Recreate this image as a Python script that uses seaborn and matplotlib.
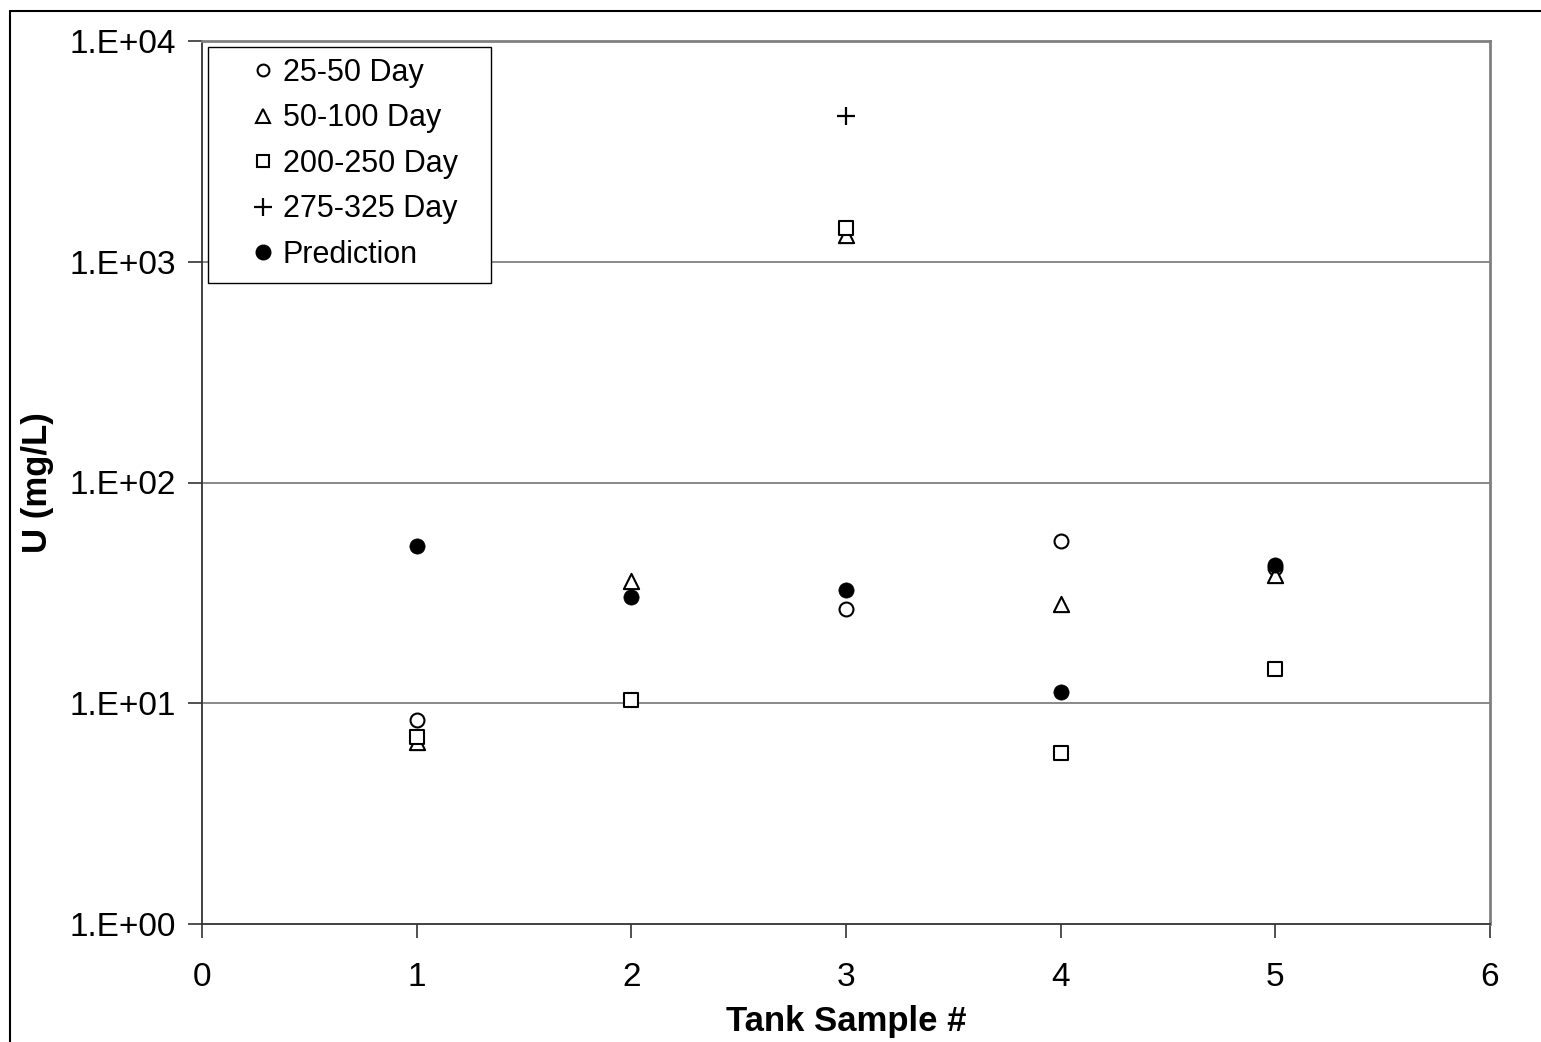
import matplotlib
matplotlib.use("Agg")
import matplotlib.pyplot as plt
import matplotlib.patches as mpatches
import seaborn as sns
import pandas as pd
from matplotlib.lines import Line2D

sns.set_theme(style="white")
plt.rcParams['font.family'] = ['Liberation Sans', 'DejaVu Sans']
plt.rcParams['text.color'] = 'black'
plt.rcParams['axes.labelcolor'] = 'black'

series_names = ["25-50 Day", "50-100 Day", "200-250 Day", "275-325 Day", "Prediction"]

x_25_50 = [1, 3, 4, 5]
y_25_50 = [8.4, 26.8, 54.6, 41.0]

x_50_100 = [1, 2, 3, 4, 5]
y_50_100 = [6.7, 35.9, 1320, 28.3, 38.3]

x_200_250 = [1, 2, 3, 4, 5]
y_200_250 = [7.0, 10.3, 1420, 5.96, 14.3]

x_275_325 = [3]
y_275_325 = [4570]

x_pred = [1, 2, 3, 4, 5]
y_pred = [51.8, 30.4, 32.7, 11.2, 42.5]

y_ticks = [1, 10, 100, 1000, 10000]
y_tick_labels = ["1.E+00", "1.E+01", "1.E+02", "1.E+03", "1.E+04"]
x_ticks = [0, 1, 2, 3, 4, 5, 6]

W, H = 1541, 1042
fig = plt.figure(figsize=(W / 100, H / 100), dpi=100)
ax = fig.add_axes([202/W, 1 - 924/H, (1490-202)/W, (924-41)/H])

# figure outer frame (left and top visible)
fig.add_artist(Line2D([10/W, 10/W], [0, 1 - 11/H], transform=fig.transFigure, color="black", lw=1.5))
fig.add_artist(Line2D([10/W, 1], [1 - 11/H, 1 - 11/H], transform=fig.transFigure, color="black", lw=1.5))

ax.set_yscale("log")
ax.set_ylim(1, 10000)
ax.set_xlim(0, 6)

for yv in [10, 100, 1000]:
    ax.axhline(yv, color="#808080", lw=1.3, zorder=0)

edge = 1.5
sns.scatterplot(x=x_25_50, y=y_25_50, ax=ax, marker="o", s=100, facecolor="white",
                edgecolor="black", linewidth=edge, zorder=3)
sns.scatterplot(x=x_50_100, y=y_50_100, ax=ax, marker="^", s=120, facecolor="white",
                edgecolor="black", linewidth=edge, zorder=3)
sns.scatterplot(x=x_200_250, y=y_200_250, ax=ax, marker="s", s=95, facecolor="white",
                edgecolor="black", linewidth=edge, zorder=3)
sns.scatterplot(x=x_275_325, y=y_275_325, ax=ax, marker="+", s=180, color="black",
                linewidth=1.6, zorder=3)
sns.scatterplot(x=x_pred, y=y_pred, ax=ax, marker="o", s=120, color="black",
                edgecolor="black", linewidth=0.5, zorder=4)

ax.set_yticks(y_ticks)
ax.set_yticklabels(y_tick_labels)
ax.yaxis.set_minor_locator(matplotlib.ticker.NullLocator())
ax.set_xticks(x_ticks)
ax.set_xticklabels([str(v) for v in x_ticks])
ax.tick_params(axis="both", which="major", direction="out", length=10, width=1.2,
               color="#333333", labelsize=24, labelcolor="black", bottom=True, left=True)
ax.tick_params(axis="y", pad=9)
ax.tick_params(axis="x", pad=17)

for side in ["left", "bottom"]:
    ax.spines[side].set_color("#333333")
    ax.spines[side].set_linewidth(1.3)
for side in ["top", "right"]:
    ax.spines[side].set_color("#808080")
    ax.spines[side].set_linewidth(2.0)

ax.set_xlabel("Tank Sample #", fontsize=25, fontweight="bold", color="black")
ax.set_ylabel("U (mg/L)", fontsize=25, fontweight="bold", color="black")
ax.xaxis.set_label_coords((846 - 202) / 1288, -(1021 - 924) / 883)
ax.yaxis.set_label_coords(-(202 - 38) / 1288, (924 - 483) / 883)
ax.xaxis.label.set_va("center")
ax.yaxis.label.set_va("center")

handles = [
    Line2D([], [], ls="none", marker="o", ms=8.5, mfc="white", mec="black", mew=1.5),
    Line2D([], [], ls="none", marker="^", ms=10, mfc="white", mec="black", mew=1.5),
    Line2D([], [], ls="none", marker="s", ms=8.5, mfc="white", mec="black", mew=1.5),
    Line2D([], [], ls="none", marker="+", ms=13, color="black", mew=1.6),
    Line2D([], [], ls="none", marker="o", ms=10.5, mfc="black", mec="black"),
]
leg = ax.legend(handles, series_names, loc="upper left",
                bbox_to_anchor=(6/1288, 1 - 6/883), fontsize=22, frameon=False,
                labelspacing=0.51, handletextpad=-0.8, handlelength=2.9,
                borderpad=0.35, borderaxespad=0, labelcolor="black")
# legend frame box
ax.add_patch(mpatches.Rectangle(((208 - 202) / 1288, (924 - 283) / 883),
                                (491 - 208) / 1288, (283 - 47) / 883,
                                transform=ax.transAxes, facecolor="white",
                                edgecolor="black", lw=1.0, zorder=5))
leg.set_zorder(6)

fig.savefig("out.png", dpi=100)
